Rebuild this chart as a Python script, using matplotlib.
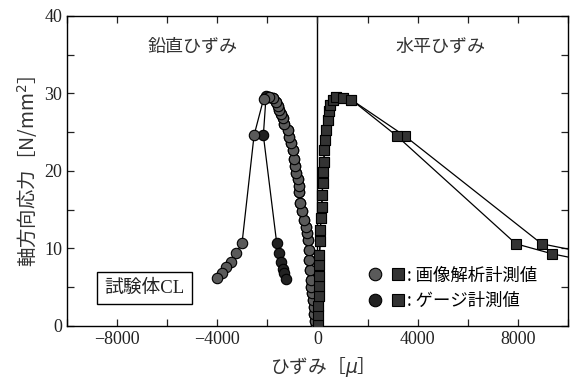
import numpy as np
import matplotlib
matplotlib.use('Agg')
import matplotlib.pyplot as plt
from matplotlib.legend_handler import HandlerTuple
from matplotlib.lines import Line2D

plt.rcParams['font.family'] = ['Liberation Serif', 'Noto Sans CJK JP']
plt.rcParams['axes.unicode_minus'] = True

# vertical strain (circles), dense rising branch shared by both measurements
v_curve_x = [-53, -80, -120, -147, -187, -227, -253, -267, -293, -320, -347, -387, -427,
             -453, -520, -613, -680, -720, -747, -787, -853, -880, -920, -960, -1053,
             -1120, -1187, -1320, -1387, -1453, -1520, -1587, -1653, -1787, -1920]
v_curve_y = [0.0, 0.7, 1.6, 2.5, 3.3, 4.2, 5.0, 5.9, 7.2, 8.5, 9.8, 11.1, 12.0,
             12.8, 13.7, 14.8, 15.8, 17.3, 18.0, 18.9, 19.7, 20.6, 21.6, 22.7, 23.6,
             24.4, 25.3, 26.1, 26.8, 27.4, 27.9, 28.4, 28.9, 29.4, 29.6]

# image analysis, vertical: softening branch to the left
v_img_x = v_curve_x + [-2150, -2530, -3010, -3250, -3450, -3650, -3810, -3990]
v_img_y = v_curve_y + [29.3, 24.6, 10.7, 9.4, 8.3, 7.6, 6.8, 6.2]

# gauge, vertical: softening branch to the right
v_gau_x = v_curve_x + [-2050, -2160, -1627, -1520, -1453, -1387, -1320, -1253]
v_gau_y = v_curve_y + [29.7, 24.6, 10.7, 9.4, 8.3, 7.4, 6.8, 6.1]

# horizontal strain (squares)
h_curve_x = [13, 13, 40, 53, 53, 80, 80, 80, 107, 107, 147, 173, 187, 213, 240,
             253, 280, 320, 347, 413, 453, 520, 613, 747, 1013, 1347]
h_curve_y = [0.1, 1.4, 2.6, 3.8, 5.1, 6.5, 7.8, 9.2, 10.9, 12.4, 13.9, 15.4, 16.9, 18.4, 19.9,
             21.2, 22.7, 24.0, 25.3, 26.6, 27.7, 28.5, 29.2, 29.5, 29.4, 29.2]

h_img_x = h_curve_x + [3173, 7920, 9373, 10600]
h_img_y = h_curve_y + [24.5, 10.6, 9.3, 8.5]

h_gau_x = h_curve_x + [3493, 8947, 10800]
h_gau_y = h_curve_y + [24.5, 10.6, 9.4]

c_img = '#5a5a5a'
c_gau = '#222222'
c_sq = '#333333'
jp = ['Noto Sans CJK JP', 'DejaVu Sans']
serif_jp = ['Liberation Serif', 'Noto Sans CJK JP']

fig = plt.figure(figsize=(5.72, 3.79), dpi=100)
ax = fig.add_axes([0.117, 0.14, 0.876, 0.818])

ax.axvline(0, color='black', lw=1.0, zorder=1)

ax.plot(v_gau_x, v_gau_y, color='black', lw=0.9, marker='o', ms=7.5,
        mfc=c_gau, mec='black', mew=0.8, zorder=2)
ax.plot(v_img_x, v_img_y, color='black', lw=0.9, marker='o', ms=7.5,
        mfc=c_img, mec='black', mew=0.8, zorder=3)
ax.plot(h_gau_x, h_gau_y, color='black', lw=0.9, marker='s', ms=6.5,
        mfc=c_sq, mec='black', mew=0.8, zorder=2)
ax.plot(h_img_x, h_img_y, color='black', lw=0.9, marker='s', ms=6.5,
        mfc=c_sq, mec='black', mew=0.8, zorder=3)

ax.set_xlim(-10000, 10000)
ax.set_ylim(0, 40)
ax.set_xticks([-8000, -4000, 0, 4000, 8000])
ax.set_xticks(np.arange(-10000, 10001, 2000), minor=True)
ax.set_yticks([0, 10, 20, 30, 40])
ax.set_yticks(np.arange(0, 41, 5), minor=True)
ax.tick_params(which='both', direction='in', top=True, right=True, length=5,
               width=0.9, labelsize=13, colors='#222222')
for s in ax.spines.values():
    s.set_linewidth(1.0)

ax.set_xlabel('ひずみ［$\\mu$］', fontsize=13.5, color='#333333',
              family=jp, labelpad=5)
ax.set_ylabel('軸方向応力［N/mm$^2$］', fontsize=14, color='#333333',
              family=jp, labelpad=3)

ax.text(-5000, 36, '鉛直ひずみ', ha='center', va='center', fontsize=13,
        color='#333333', family=jp)
ax.text(4900, 36, '水平ひずみ', ha='center', va='center', fontsize=13,
        color='#333333', family=jp)
ax.text(-6900, 4.9, '試験体CL', ha='center', va='center', fontsize=13.5,
        color='#222222', family=serif_jp,
        bbox=dict(boxstyle='square,pad=0.4', fc='white', ec='black', lw=1.0))

h1 = (Line2D([], [], ls='none', marker='o', ms=9, mfc=c_img, mec='black', mew=0.8),
      Line2D([], [], ls='none', marker='s', ms=8, mfc=c_sq, mec='black', mew=0.8))
h2 = (Line2D([], [], ls='none', marker='o', ms=9, mfc=c_gau, mec='black', mew=0.8),
      Line2D([], [], ls='none', marker='s', ms=8, mfc=c_sq, mec='black', mew=0.8))
ax.legend([h1, h2], [': 画像解析計測値', ': ゲージ計測値'],
          handler_map={tuple: HandlerTuple(ndivide=None, pad=0.5)},
          loc='lower right', bbox_to_anchor=(0.97, 0.0), frameon=False,
          handlelength=2.2, handletextpad=0.1, labelspacing=0.45,
          prop={'family': jp, 'size': 12.5})

fig.savefig('out.png', dpi=100)
